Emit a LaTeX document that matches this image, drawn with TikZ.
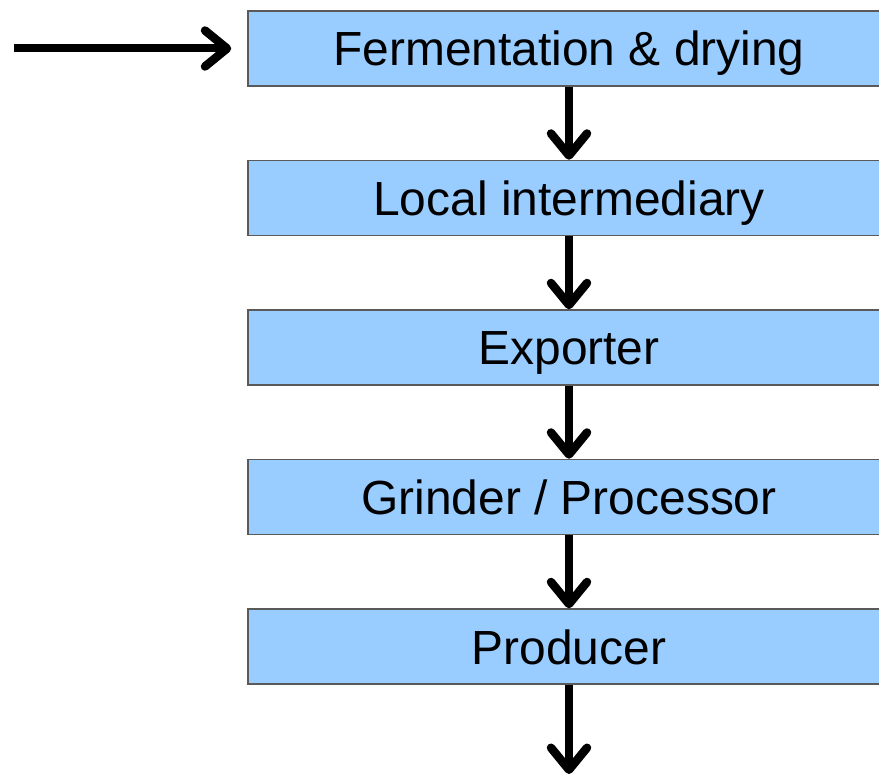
\documentclass[tikz,border=0pt]{standalone}
\usepackage{fontspec}
\setmainfont{Liberation Sans}
\usetikzlibrary{arrows.meta, positioning}
\definecolor{boxblue}{HTML}{99CCFF}
\definecolor{boxedge}{HTML}{5A5A5A}

\begin{document}
\begin{tikzpicture}[x=1pt, y=1pt,
    stage/.style={draw=boxedge, line width=1.5pt, fill=boxblue, minimum width=642pt, minimum height=75pt, inner sep=0pt, text height=35pt, text depth=0pt, font=\fontsize{47.9}{52}\selectfont},
    flow/.style={line width=8pt, -{Straight Barb[length=22pt, width=36pt, line width=8.5pt, round]}}]
  \useasboundingbox (0,0) rectangle (879,-775);
  \clip (0,0) rectangle (879,-775);

  % Chain of stages
  \node[stage] (ferm) at (569,-48.5) {Fermentation \& drying};
  \node[stage, below=73pt of ferm] (local) {Local intermediary};
  \node[stage, below=73pt of local] (export) {Exporter};
  \node[stage, below=73pt of export] (grind) {Grinder / Processor};
  \node[stage, below=73pt of grind] (prod) {Producer};

  % Entry and exit
  \coordinate (in) at (14,-48.5);
  \coordinate (out) at (569,-774);

  \draw[flow] (in) -- ([xshift=-16pt]ferm.west);
  \draw[flow] (ferm) -- (local);
  \draw[flow] (local) -- (export);
  \draw[flow] (export) -- (grind);
  \draw[flow] (grind) -- (prod);
  \draw[flow] (prod) -- (out);
\end{tikzpicture}
\end{document}
